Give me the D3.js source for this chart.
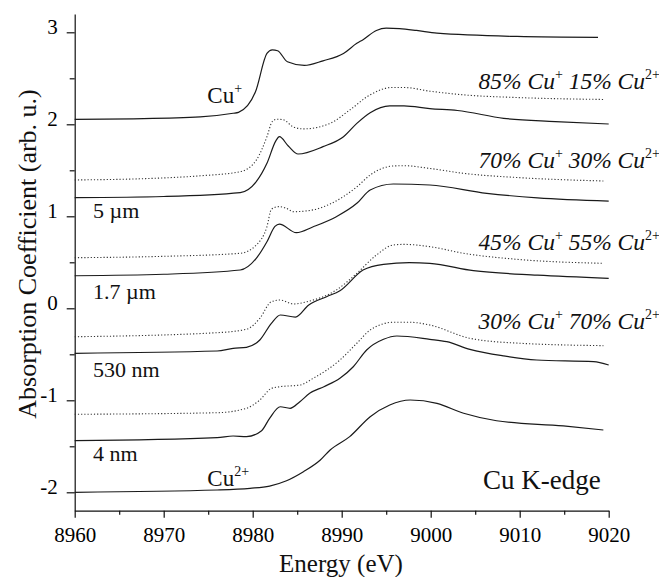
<!DOCTYPE html>
<html>
<head>
<meta charset="utf-8">
<script src="https://cdn.jsdelivr.net/npm/d3@7"></script>
</head>
<body style="margin:0;background:#fff">
<div id="chart"></div>
<script>
// spectra: [energy (eV), absorption (offset, arb. u.)]
var cuPlus = [[8960,2.054],[8966.6,2.06],[8974.1,2.08],[8977.8,2.12],[8978.4,2.13],[8980.3,2.35],[8981.6,2.77],[8982.2,2.81],[8982.8,2.80],[8983.9,2.68],[8985.8,2.64],[8987.9,2.69],[8990.2,2.77],[8991.7,2.88],[8992.4,2.92],[8993.9,3.02],[8995.0,3.045],[8996.5,3.04],[8998.4,3.02],[9000.7,2.99],[9009.7,2.955],[9018.8,2.945]];
var mix85 = [[8960,1.395],[8968,1.41],[8974.1,1.44],[8978.6,1.485],[8980.4,1.61],[8981.6,1.865],[8982.2,2.03],[8982.7,2.055],[8983.4,2.05],[8984.6,1.97],[8985.7,1.95],[8988.7,2.01],[8990.9,2.155],[8993.2,2.32],[8995.6,2.40],[8997,2.40],[8999.9,2.36],[9003.7,2.32],[9010,2.29],[9019.4,2.27]];
var um5 = [[8960,1.202],[8970,1.215],[8978.6,1.257],[8980.4,1.376],[8981.6,1.576],[8982.6,1.82],[8983.0,1.865],[8984.0,1.764],[8985.1,1.677],[8987.9,1.757],[8990.2,1.865],[8991.7,2.01],[8993.2,2.126],[8995.4,2.2],[8997,2.2],[8999.9,2.17],[9003,2.15],[9008.2,2.065],[9014,2.03],[9020,2.003]];
var mix70 = [[8960,0.55],[8970,0.565],[8978.6,0.598],[8980.4,0.688],[8981.6,0.887],[8982.1,1.076],[8982.9,1.105],[8983.7,1.09],[8984.6,1.05],[8986.8,1.07],[8988.7,1.134],[8991.7,1.32],[8993.2,1.449],[8995.8,1.547],[8997,1.55],[8999.9,1.52],[9003.7,1.467],[9010,1.42],[9019.4,1.384]];
var um17 = [[8960,0.354],[8970,0.37],[8978.6,0.416],[8980.4,0.543],[8981.6,0.724],[8982.5,0.89],[8983.0,0.916],[8984.9,0.822],[8986.8,0.887],[8989.4,0.996],[8991.7,1.141],[8993.2,1.286],[8995.8,1.351],[8999.9,1.34],[9006.3,1.25],[9012,1.20],[9020,1.166]];
var mix45 = [[8960,-0.309],[8976.0,-0.265],[8979.3,-0.228],[8980.8,-0.109],[8982.1,0.072],[8983.1,0.09],[8984.6,0.047],[8986.1,0.072],[8989.4,0.199],[8991.7,0.38],[8993.9,0.579],[8995.8,0.688],[8997,0.695],[8999.9,0.67],[9003.7,0.598],[9010,0.53],[9019.4,0.489]];
var nm530 = [[8960,-0.489],[8976.0,-0.464],[8977.8,-0.435],[8979.3,-0.424],[8980.8,-0.345],[8982.1,-0.163],[8983.1,-0.073],[8984.8,-0.095],[8986.3,0.036],[8988.3,0.126],[8989.8,0.191],[8992.4,0.416],[8994.7,0.478],[8997.6,0.496],[8999.9,0.489],[9004.8,0.409],[9012,0.36],[9020,0.326]];
var mix30 = [[8960,-1.152],[8976.0,-1.135],[8979.3,-1.087],[8980.8,-0.997],[8982.1,-0.87],[8983.1,-0.852],[8985.3,-0.834],[8986.8,-0.761],[8989.8,-0.562],[8991.7,-0.38],[8993.2,-0.236],[8995.8,-0.152],[8997.7,-0.152],[8999.9,-0.182],[9004.4,-0.326],[9010,-0.38],[9019.4,-0.406]];
var nm4 = [[8960,-1.439],[8976.0,-1.406],[8977.8,-1.388],[8979.3,-1.395],[8981.0,-1.33],[8981.9,-1.196],[8983.1,-1.07],[8984.2,-1.087],[8985.3,-1.015],[8986.4,-0.924],[8988.0,-0.852],[8989.8,-0.761],[8991.3,-0.635],[8992.8,-0.453],[8994.7,-0.337],[8996.2,-0.301],[8999.9,-0.337],[9001.8,-0.363],[9004.4,-0.446],[9008.2,-0.518],[9011.9,-0.562],[9018.3,-0.58],[9020,-0.616]];
var cuTwo = [[8960,-2.0],[8976.0,-1.975],[8979.7,-1.957],[8981.9,-1.932],[8983.8,-1.874],[8985.7,-1.776],[8987.6,-1.649],[8988.7,-1.54],[8990.9,-1.395],[8993.2,-1.178],[8995.4,-1.051],[8997.7,-0.997],[9000.7,-1.033],[9003.7,-1.141],[9007.4,-1.222],[9014.9,-1.279],[9019.4,-1.323]];

var solidSeries = [cuPlus, um5, um17, nm530, nm4, cuTwo];
var dottedSeries = [mix85, mix70, mix45, mix30];

var xMajor = [8960, 8970, 8980, 8990, 9000, 9010, 9020];
var xMinor = [8965, 8975, 8985, 8995, 9005, 9015];
var yMajor = [-2, -1, 0, 1, 2, 3];
var yMinor = [-1.5, -0.5, 0.5, 1.5, 2.5];

// sample labels: [text, energy, value]
var sizeLabels = [["5 \u00b5m", 8962, 0.978], ["1.7 \u00b5m", 8962, 0.1], ["530 nm", 8962, -0.75], ["4 nm", 8962, -1.66]];
// mixture labels: [Cu+ percent, Cu2+ percent, value at baseline]
var mixLabels = [["85%", "15%", 2.38], ["70%", "30%", 1.52], ["45%", "55%", 0.63], ["30%", "70%", -0.225]];

var W = 659, H = 577;
var svg = d3.select("#chart").append("svg")
    .attr("width", W).attr("height", H);

var x = d3.scaleLinear().domain([8960, 9020]).range([74.7, 608.7]);
var y = d3.scaleLinear().domain([-2.2, 3.2]).range([510.7, 13.9]);

var line = d3.line()
    .x(function(d) { return x(d[0]); })
    .y(function(d) { return y(d[1]); })
    .curve(d3.curveMonotoneX);

function serif(sel, size) {
    return sel.attr("font-family", "Liberation Serif").attr("font-size", size).attr("fill", "#111");
}

// x axis
var xAxis = svg.append("g")
    .attr("transform", "translate(0," + y(-2.2) + ")")
    .call(d3.axisBottom(x).tickValues(xMajor).tickSize(7).tickSizeOuter(0).tickFormat(d3.format("d")));
xAxis.append("g").call(d3.axisBottom(x).tickValues(xMinor).tickSize(4).tickFormat(""))
    .select(".domain").remove();

// y axis
var yAxis = svg.append("g")
    .attr("transform", "translate(" + x(8960) + ",0)")
    .call(d3.axisLeft(y).tickValues(yMajor).tickSize(8).tickSizeOuter(0).tickFormat(function(d) { return String(d); }));
yAxis.append("g").call(d3.axisLeft(y).tickValues(yMinor).tickSize(5).tickFormat(""))
    .select(".domain").remove();

svg.selectAll(".domain, .tick line").attr("stroke", "#111").attr("stroke-width", 1.2);
serif(xAxis, 21);
serif(yAxis, 21);
xAxis.selectAll(".tick text").attr("y", 31).attr("dy", 0);
yAxis.selectAll(".tick text").attr("x", -17).attr("dy", "0.05em");

// curves
svg.selectAll(".solid").data(solidSeries).enter().append("path")
    .attr("class", "solid")
    .attr("d", line)
    .attr("fill", "none")
    .attr("stroke", "#1a1a1a")
    .attr("stroke-width", 1.2);

svg.selectAll(".dotted").data(dottedSeries).enter().append("path")
    .attr("class", "dotted")
    .attr("d", line)
    .attr("fill", "none")
    .attr("stroke", "#333")
    .attr("stroke-width", 1.1)
    .attr("stroke-dasharray", "1.2,2");

// labels
var cuP = serif(svg.append("text").attr("x", x(8974.9)).attr("y", y(2.23)), 23);
cuP.append("tspan").text("Cu");
cuP.append("tspan").attr("dy", -10).attr("font-size", 14).text("+");

var cuT = serif(svg.append("text").attr("x", x(8974.9)).attr("y", y(-1.93)), 23);
cuT.append("tspan").text("Cu");
cuT.append("tspan").attr("dy", -10).attr("font-size", 14).text("2+");

sizeLabels.forEach(function(l) {
    serif(svg.append("text").attr("x", x(l[1]) + 0.5).attr("y", y(l[2])), 22).text(l[0]);
});

mixLabels.forEach(function(l) {
    var t = serif(svg.append("text").attr("x", 478.5).attr("y", y(l[2])), 23.5)
        .attr("font-style", "italic");
    t.append("tspan").text(l[0] + " Cu");
    t.append("tspan").attr("dy", -10).attr("font-size", 14).attr("font-style", "normal").text("+");
    t.append("tspan").attr("dy", 10).text(" " + l[1] + " Cu");
    t.append("tspan").attr("dy", -10).attr("font-size", 14).attr("font-style", "normal").text("2+");
});

serif(svg.append("text").attr("x", 483).attr("y", 489), 27).text("Cu K-edge");

// axis titles
serif(svg.append("text")
    .attr("text-anchor", "middle")
    .attr("transform", "translate(36,254) rotate(-90)"), 26)
    .text("Absorption Coefficient (arb. u.)");

serif(svg.append("text")
    .attr("text-anchor", "middle")
    .attr("x", 341).attr("y", 572), 25)
    .text("Energy (eV)");
</script>
</body>
</html>
